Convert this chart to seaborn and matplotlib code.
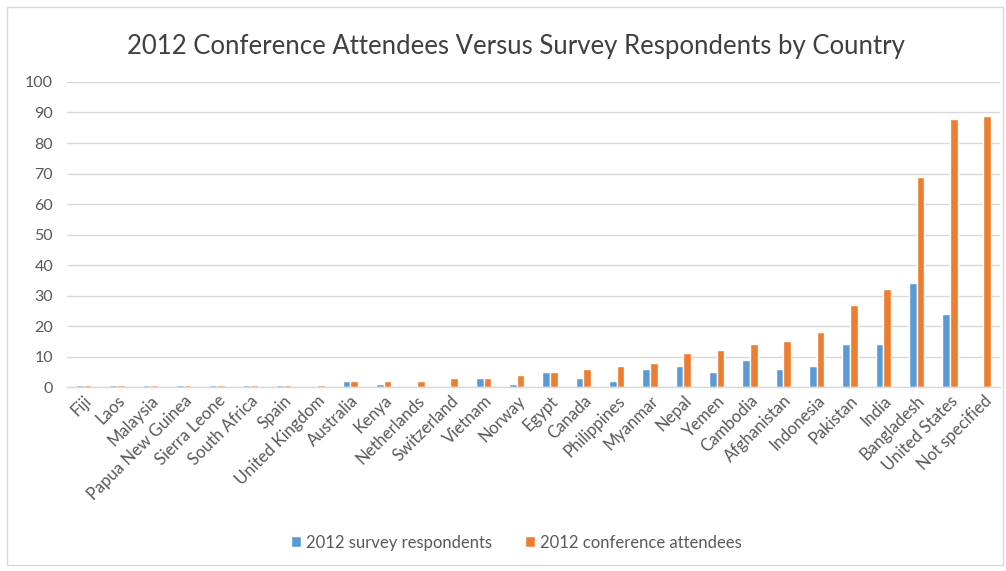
import matplotlib
matplotlib.use("Agg")
import matplotlib.pyplot as plt
import seaborn as sns
import pandas as pd
from matplotlib.patches import Rectangle

countries = [
    "Fiji", "Laos", "Malaysia", "Papua New Guinea", "Sierra Leone", "South Africa",
    "Spain", "United Kingdom", "Australia", "Kenya", "Netherlands", "Switzerland",
    "Vietnam", "Norway", "Egypt", "Canada", "Philippines", "Myanmar", "Nepal",
    "Yemen", "Cambodia", "Afghanistan", "Indonesia", "Pakistan", "India",
    "Bangladesh", "United States", "Not specified",
]
respondents = [0.5, 0.5, 0.5, 0.5, 0.5, 0.5, 0.5, 0, 2, 1, 0, 0,
               3, 1, 5, 3, 2, 6, 7, 5, 9, 6, 7, 14, 14, 34, 24, 0]
attendees = [0.5, 0.5, 0.5, 0.5, 0.5, 0.5, 0.5, 0.5, 2, 2, 2, 3,
             3, 4, 5, 6, 7, 8, 11, 12, 14, 15, 18, 27, 32, 69, 88, 89]
series_names = ["2012 survey respondents", "2012 conference attendees"]
colors = ["#5B9BD5", "#ED7D31"]
y_ticks = list(range(0, 101, 10))
title = "2012 Conference Attendees Versus Survey Respondents by Country"

df = pd.DataFrame({
    "country": countries * 2,
    "value": respondents + attendees,
    "series": [series_names[0]] * len(countries) + [series_names[1]] * len(countries),
})

sns.set_theme(style="white")
plt.rcParams["font.family"] = ["Lato", "DejaVu Sans"]

fig = plt.figure(figsize=(10.06, 5.71), dpi=100)
ax = fig.add_axes([0.0666, 0.3222, 0.9274, 0.5342])

sns.barplot(data=df, x="country", y="value", hue="series", order=countries,
            hue_order=series_names, palette=colors, width=0.46, gap=0,
            saturation=1, ax=ax, legend=True)

ax.set_ylim(0, 100)
ax.set_yticks(y_ticks)
ax.set_xlim(-0.5, len(countries) - 0.5)
ax.yaxis.grid(True, color="#D9D9D9", linewidth=1)
ax.set_axisbelow(True)
for s in ["top", "right", "left"]:
    ax.spines[s].set_visible(False)
ax.spines["bottom"].set_color("#D9D9D9")
ax.spines["bottom"].set_linewidth(1)
ax.tick_params(axis="y", length=0, colors="#595959", labelsize=11.5, pad=10)
ax.tick_params(axis="x", length=0, colors="#595959", labelsize=12, pad=4)
ax.set_xlabel("")
ax.set_ylabel("")
for lbl in ax.get_xticklabels():
    lbl.set_rotation(45)
    lbl.set_ha("right")
    lbl.set_rotation_mode("anchor")

ax.set_title(title, fontsize=18.5, color="#404040", pad=20, x=0.481)

handles, labels = ax.get_legend_handles_labels()
ax.legend(handles, labels, loc="center", bbox_to_anchor=(0.482, -0.51),
          ncol=2, frameon=False, fontsize=12, handlelength=0.6, handleheight=0.6,
          handletextpad=0.3, columnspacing=2.0, labelcolor="#595959")

fig.patches.append(Rectangle((0.007, 0.01), 0.99, 0.978, transform=fig.transFigure,
                             fill=False, edgecolor="#D9D9D9", linewidth=1))

fig.savefig("out.png", dpi=100)
